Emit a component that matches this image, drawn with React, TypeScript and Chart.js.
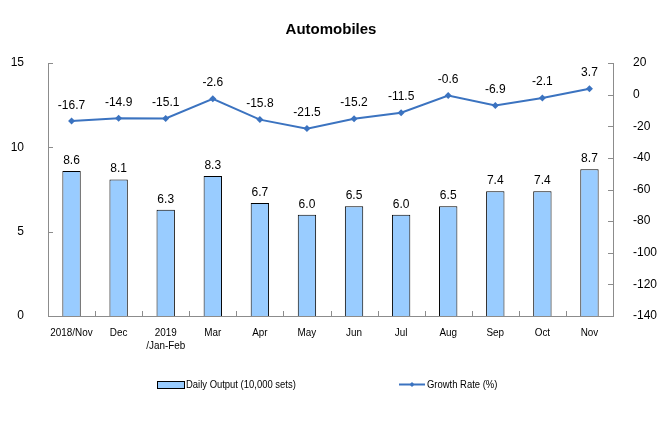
import React, { useEffect, useRef } from "react";
import { Chart, registerables } from "chart.js";

Chart.register(...registerables);

const categories: string[][] = [["2018/Nov"], ["Dec"], ["2019", "/Jan-Feb"], ["Mar"], ["Apr"], ["May"], ["Jun"], ["Jul"], ["Aug"], ["Sep"], ["Oct"], ["Nov"]];
const dailyOutput = [8.6, 8.1, 6.3, 8.3, 6.7, 6.0, 6.5, 6.0, 6.5, 7.4, 7.4, 8.7];
const growthRate = [-16.7, -14.9, -15.1, -2.6, -15.8, -21.5, -15.2, -11.5, -0.6, -6.9, -2.1, 3.7];
const leftTicks = [0, 5, 10, 15];
const rightTicks = [-140, -120, -100, -80, -60, -40, -20, 0, 20];

const FONT = "'Liberation Sans', Arial, sans-serif";
const LINE_COLOR = "#3b73c0";
const BAR_COLOR = "#99ccff";
const AXIS_COLOR = "#8c8c8c";

function narrowText(ctx: CanvasRenderingContext2D, text: string, x: number, y: number, sx: number) {
  ctx.save();
  ctx.translate(x, y);
  ctx.scale(sx, 1);
  ctx.fillText(text, 0, 0);
  ctx.restore();
}

const decorPlugin = {
  id: "decor",
  afterDatasetsDraw(chart: any) {
    const ctx = chart.ctx as CanvasRenderingContext2D;
    const ca = chart.chartArea;
    const x = chart.scales.x;
    const yl = chart.scales.y;
    const yr = chart.scales.y1;
    ctx.save();
    // inward tick marks
    ctx.strokeStyle = AXIS_COLOR;
    ctx.lineWidth = 1;
    ctx.beginPath();
    leftTicks.forEach((v) => {
      const py = Math.round(yl.getPixelForValue(v)) + 0.5;
      ctx.moveTo(ca.left, py);
      ctx.lineTo(ca.left + 5, py);
    });
    rightTicks.forEach((v) => {
      const py = Math.round(yr.getPixelForValue(v)) + 0.5;
      ctx.moveTo(ca.right, py);
      ctx.lineTo(ca.right - 5, py);
    });
    const n = categories.length;
    const w = (ca.right - ca.left) / n;
    for (let i = 1; i < n; i++) {
      const px = Math.round(ca.left + i * w) + 0.5;
      ctx.moveTo(px, ca.bottom);
      ctx.lineTo(px, ca.bottom - 5);
    }
    ctx.stroke();

    // x category labels (narrow)
    ctx.fillStyle = "#000";
    ctx.font = `11.5px ${FONT}`;
    ctx.textAlign = "center";
    ctx.textBaseline = "alphabetic";
    categories.forEach((lines, i) => {
      const cx = x.getPixelForValue(i);
      lines.forEach((t, j) => narrowText(ctx, t, cx, ca.bottom + 20 + j * 13, 0.86));
    });

    // data labels
    ctx.font = `12px ${FONT}`;
    const barMeta = chart.getDatasetMeta(0);
    barMeta.data.forEach((el: any, i: number) => {
      ctx.fillText(dailyOutput[i].toFixed(1), el.x, el.y - 7);
    });
    const lineMeta = chart.getDatasetMeta(1);
    lineMeta.data.forEach((el: any, i: number) => {
      ctx.fillText(growthRate[i].toFixed(1), el.x, el.y - 12.5);
    });

    // title
    ctx.font = `bold 15px ${FONT}`;
    ctx.textBaseline = "middle";
    ctx.fillText("Automobiles", 331, 29.5);

    // legend
    ctx.font = `10.5px ${FONT}`;
    ctx.textAlign = "left";
    ctx.fillStyle = BAR_COLOR;
    ctx.fillRect(157.5, 381.5, 27, 7);
    ctx.strokeStyle = "#000";
    ctx.strokeRect(157.5, 381.5, 27, 7);
    ctx.fillStyle = "#000";
    narrowText(ctx, "Daily Output (10,000 sets)", 186, 385, 0.9);
    ctx.strokeStyle = LINE_COLOR;
    ctx.lineWidth = 2;
    ctx.beginPath();
    ctx.moveTo(399, 384.5);
    ctx.lineTo(425, 384.5);
    ctx.stroke();
    ctx.fillStyle = LINE_COLOR;
    ctx.beginPath();
    ctx.moveTo(412, 382);
    ctx.lineTo(414.5, 384.5);
    ctx.lineTo(412, 387);
    ctx.lineTo(409.5, 384.5);
    ctx.closePath();
    ctx.fill();
    ctx.fillStyle = "#000";
    narrowText(ctx, "Growth Rate (%)", 427, 385, 0.9);
    ctx.restore();
  },
};

export default function App() {
  const ref = useRef<HTMLCanvasElement>(null);
  useEffect(() => {
    document.body.style.margin = "0";
    const chart = new Chart(ref.current as HTMLCanvasElement, {
      type: "bar",
      data: {
        labels: categories.map((l) => l.join(" ")),
        datasets: [
          {
            type: "bar",
            label: "Daily Output (10,000 sets)",
            data: dailyOutput,
            backgroundColor: BAR_COLOR,
            borderColor: "#000",
            borderWidth: 1,
            barPercentage: 0.39,
            categoryPercentage: 1,
            yAxisID: "y",
            order: 2,
          },
          {
            type: "line",
            label: "Growth Rate (%)",
            data: growthRate,
            borderColor: LINE_COLOR,
            backgroundColor: LINE_COLOR,
            borderWidth: 2,
            pointStyle: "rectRot",
            pointRadius: 3.5,
            pointBorderWidth: 0,
            yAxisID: "y1",
            order: 1,
          } as any,
        ],
      },
      options: {
        responsive: false,
        animation: false,
        layout: { padding: { top: 63, bottom: 70, left: 0, right: 0 } },
        plugins: { legend: { display: false }, title: { display: false }, tooltip: { enabled: false } },
        scales: {
          x: {
            grid: { display: false },
            border: { color: AXIS_COLOR },
            ticks: { display: false },
            afterFit(s: any) { s.height = 43; },
          },
          y: {
            position: "left",
            min: 0,
            max: 15,
            grid: { display: false },
            border: { color: AXIS_COLOR },
            ticks: { stepSize: 5, color: "#000", font: { family: FONT, size: 12 }, padding: 16 },
            afterFit(s: any) { s.width = 48; },
          },
          y1: {
            position: "right",
            min: -140,
            max: 20,
            grid: { display: false },
            border: { color: AXIS_COLOR },
            ticks: { stepSize: 20, color: "#000", font: { family: FONT, size: 12 }, padding: 12 },
            afterFit(s: any) { s.width = 52; },
          },
        },
      } as any,
      plugins: [decorPlugin],
    });
    return () => chart.destroy();
  }, []);
  return (
    <div style={{ position: "absolute", left: 0, top: 0, width: 665, height: 429, background: "#fff" }}>
      <canvas ref={ref} width={665} height={429} style={{ width: 665, height: 429 }} />
    </div>
  );
}
